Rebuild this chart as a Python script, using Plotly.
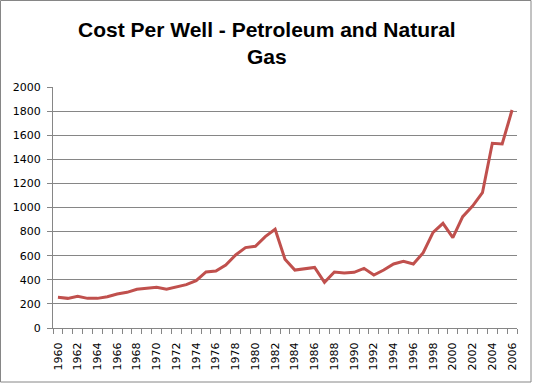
import plotly.graph_objects as go

years = list(range(1960, 2007))
cost = [255, 246, 263, 246, 246, 260, 282, 296, 321, 332, 338, 321, 343, 360, 393,
        465, 473, 523, 606, 667, 678, 758, 819, 570, 481, 492, 503, 379, 465, 456,
        462, 495, 440, 481, 531, 553, 531, 625, 794, 869, 750, 924, 1012, 1123, 1533,
        1527, 1809]
tick_years = [y for y in years if y % 2 == 0]
title_text = "Cost Per Well - Petroleum and Natural<br>Gas"

W, H = 533, 385
L, R, T, B = 53, 16, 87, 57
pw, ph = W - L - R, H - T - B

fig = go.Figure()
fig.add_trace(go.Scatter(x=years, y=cost, mode="lines",
                         line=dict(color="#C0504D", width=3)))

fig.update_layout(
    width=W, height=H,
    margin=dict(l=L, r=R, t=T, b=B),
    paper_bgcolor="white", plot_bgcolor="white",
    showlegend=False,
    font=dict(family="DejaVu Sans", size=11, color="black"),
)
fig.add_annotation(text="<b>" + title_text + "</b>", xref="paper", yref="paper",
                   x=(267 - L) / pw, xanchor="center",
                   y=(H - B - 16) / ph, yanchor="top", showarrow=False,
                   font=dict(family="Liberation Sans", size=21, color="black"))
fig.update_xaxes(
    range=[1959.5, 2006.5], tickvals=tick_years, ticktext=[str(y) for y in tick_years],
    tickangle=-90, ticks="", showgrid=False, showline=True, linecolor="#868686",
    linewidth=1, ticklabelstandoff=9,
    minor=dict(ticks="outside", tick0=1959.5, dtick=1, ticklen=5, tickcolor="#868686",
               showgrid=False),
    zeroline=False,
)
fig.update_yaxes(
    range=[0, 2000], dtick=200, showgrid=True, gridcolor="#868686", gridwidth=1,
    showline=True, linecolor="#868686", linewidth=1, ticks="outside", ticklen=5,
    tickcolor="#868686", zeroline=False, ticklabelstandoff=4,
)
fig.add_shape(type="rect", xref="paper", yref="paper",
              x0=(0.5 - L) / pw, x1=(531 - L) / pw,
              y0=(H - B - 382) / ph, y1=(H - B - 0.5) / ph,
              line=dict(color="#868686", width=1), fillcolor="rgba(0,0,0,0)")
fig.write_html("out.html")
